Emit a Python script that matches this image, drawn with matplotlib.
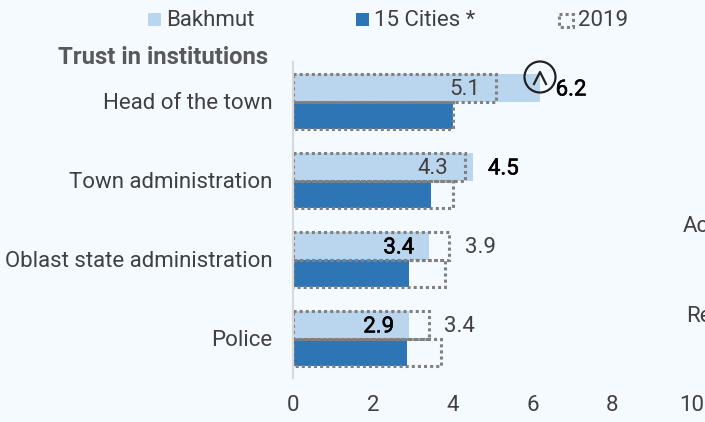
import matplotlib
matplotlib.use('Agg')
import matplotlib.pyplot as plt
import matplotlib.patheffects as pe
from matplotlib.patches import Rectangle, Circle
from matplotlib.transforms import ScaledTranslation
import numpy as np

plt.rcParams['font.family'] = ['Roboto', 'DejaVu Sans']

categories = ['Head of the town', 'Town administration', 'Oblast state administration', 'Police']
bakhmut = [6.2, 4.5, 3.4, 2.9]
cities = [4.0, 3.45, 2.9, 2.85]
bakhmut_2019 = [5.1, 4.3, 3.9, 3.4]
cities_2019 = [4.0, 4.0, 3.8, 3.7]
bakhmut_labels = ['6.2', '4.5', '3.4', '2.9']
labels_2019 = ['5.1', '4.3', '3.9', '3.4']
xticks = [0, 2, 4, 6, 8, 10]

W, H = 705, 422
bg = '#F5FAFF'
light = '#BAD5EE'
dark = '#2E75B6'
grey = '#808080'
txt = '#404040'
fs = 16

fig = plt.figure(figsize=(W / 100, H / 100), dpi=100, facecolor=bg)
# axes placed by pixels: x 0 at 293, x 10 at 692, rows between y 62 and 378
ax = fig.add_axes([293 / W, 1 - 378 / H, 399 / W, 316 / H], facecolor='none')

y = np.arange(len(categories))
h = 0.342
ax.barh(y - h / 2, bakhmut, h, color=light, zorder=1)
ax.barh(y + h / 2, cities, h, color=dark, zorder=1)
dots = dict(facecolor='none', edgecolor=grey, linewidth=2.2, linestyle=(0, (1.0, 1.0)), zorder=2)
ax.barh(y - h / 2, bakhmut_2019, h, **dots)
ax.barh(y + h / 2, cities_2019, h, **dots)

ax.set_xlim(0, 10)
ax.set_ylim(3.5, -0.5)
ax.set_xticks(xticks)
ax.set_yticks(y, categories)
ax.tick_params(length=0)
ax.tick_params(axis='x', pad=12, labelsize=fs, labelcolor=txt)
ax.tick_params(axis='y', pad=15, labelsize=fs, labelcolor=txt)
# nudge category labels down 2 px
shift = ScaledTranslation(0, -2 / 100, fig.dpi_scale_trans)
for lab in ax.get_yticklabels():
    lab.set_verticalalignment('center')
    lab.set_transform(lab.get_transform() + shift)
for s in ['top', 'right', 'bottom']:
    ax.spines[s].set_visible(False)
ax.spines['left'].set_color('#D9D9D9')
ax.spines['left'].set_linewidth(1.5)

# value labels, Bakhmut now heavier, 2019 plain
now_x = [6.97, 5.27, 2.65, 2.15]
old_x = [4.3, 3.5, 4.69, 4.17]
for i in range(len(categories)):
    t = ax.text(now_x[i], y[i] - h / 2 + 0.025, bakhmut_labels[i], ha='center', va='center',
                fontsize=fs, color='black', zorder=4)
    t.set_path_effects([pe.withStroke(linewidth=0.4, foreground='black')])
    ax.text(old_x[i], y[i] - h / 2 + 0.025, labels_2019[i], ha='center', va='center',
            fontsize=fs, color=txt, zorder=4)


def px(x, y_):
    return x / W, 1 - y_ / H


# up marker next to the first bar
marker_ax = fig.add_axes([0, 0, 1, 1], facecolor='none')
marker_ax.set_xlim(0, W)
marker_ax.set_ylim(H, 0)
marker_ax.axis('off')
marker_ax.add_patch(Circle((540, 77), 15.5, facecolor='none', edgecolor='#222222', linewidth=1.6))
marker_ax.plot([534, 540, 546], [84, 72, 84], color='#222222', lw=1.6)

# legend
marker_ax.add_patch(Rectangle((148, 13), 13, 13, facecolor=light, edgecolor='none'))
marker_ax.add_patch(Rectangle((356, 13), 13, 13, facecolor=dark, edgecolor='none'))
marker_ax.add_patch(Rectangle((559, 14), 14, 13, facecolor='none', edgecolor=grey, linewidth=2.2,
                              linestyle=(0, (1.0, 1.0))))
fig.text(*px(166, 21), 'Bakhmut', fontsize=fs, color=txt, va='center')
fig.text(*px(374, 21), '15 Cities *', fontsize=fs, color=txt, va='center')
fig.text(*px(578, 21), '2019', fontsize=fs, color=txt, va='center')
fig.text(*px(268, 57), 'Trust in institutions', fontsize=17.2, fontweight='bold', color='#595959',
         ha='right', va='center')

# cut off labels from the next panel
fig.text(*px(683, 226), 'Ac', fontsize=fs, color=txt, va='center')
fig.text(*px(686, 316), 'Re', fontsize=fs, color=txt, va='center')

fig.savefig('out.png', dpi=100, facecolor=bg)
